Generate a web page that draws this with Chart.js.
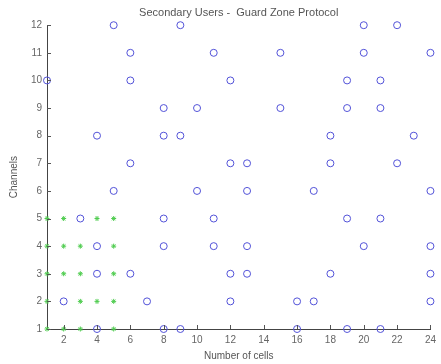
<!DOCTYPE html>
<html>
<head>
<meta charset="utf-8">
<script src="https://cdn.jsdelivr.net/npm/chart.js@4/dist/chart.umd.min.js"></script>
<style>
  body { margin: 0; background: #fff; }
  #wrap { width: 441px; height: 364px; }
</style>
</head>
<body>
<div id="wrap"><canvas id="chart"></canvas></div>
<script>
// secondary users (blue circles)
var suCells    = [5, 9, 20, 22,
                  6, 11, 15, 20, 24,
                  1, 6, 12, 19, 21,
                  8, 10, 15, 19, 21,
                  4, 8, 9, 18, 23,
                  6, 12, 13, 18, 22,
                  5, 10, 13, 17, 24,
                  3, 8, 11, 19, 21,
                  4, 8, 11, 13, 20, 24,
                  4, 6, 12, 13, 18, 24,
                  2, 7, 12, 16, 17, 24,
                  4, 8, 9, 16, 19, 21];
var suChannels = [12, 12, 12, 12,
                  11, 11, 11, 11, 11,
                  10, 10, 10, 10, 10,
                  9, 9, 9, 9, 9,
                  8, 8, 8, 8, 8,
                  7, 7, 7, 7, 7,
                  6, 6, 6, 6, 6,
                  5, 5, 5, 5, 5,
                  4, 4, 4, 4, 4, 4,
                  3, 3, 3, 3, 3, 3,
                  2, 2, 2, 2, 2, 2,
                  1, 1, 1, 1, 1, 1];

// primary users (green stars)
var puCells    = [1, 2, 4, 5,
                  1, 2, 3, 5,
                  1, 2, 3, 5,
                  1, 3, 4, 5,
                  1, 2, 3, 5];
var puChannels = [5, 5, 5, 5,
                  4, 4, 4, 4,
                  3, 3, 3, 3,
                  2, 2, 2, 2,
                  1, 1, 1, 1];

var xTicks = [2, 4, 6, 8, 10, 12, 14, 16, 18, 20, 22, 24];
var yTicks = [1, 2, 3, 4, 5, 6, 7, 8, 9, 10, 11, 12];

function toPoints(xs, ys) {
    return xs.map(function (x, i) { return { x: x, y: ys[i] }; });
}

var fontSpec = { family: 'Liberation Sans, Arial, sans-serif', size: 10 };

// inward tick marks like the original plot
var innerTicks = {
    id: 'innerTicks',
    afterDraw: function (chart) {
        var ctx = chart.ctx;
        var xs = chart.scales.x, ys = chart.scales.y;
        var area = chart.chartArea;
        ctx.save();
        ctx.strokeStyle = '#555';
        ctx.lineWidth = 1;
        ctx.beginPath();
        xTicks.forEach(function (v) {
            var px = Math.round(xs.getPixelForValue(v)) + 0.5;
            ctx.moveTo(px, area.bottom);
            ctx.lineTo(px, area.bottom - 4);
        });
        yTicks.forEach(function (v) {
            var py = Math.round(ys.getPixelForValue(v)) + 0.5;
            ctx.moveTo(area.left, py);
            ctx.lineTo(area.left + 4, py);
        });
        ctx.stroke();
        ctx.restore();
    }
};

var ctx = document.getElementById('chart').getContext('2d');
var myChart = new Chart(ctx, {
    type: 'scatter',
    data: {
        datasets: [
            {
                label: 'SU',
                data: toPoints(suCells, suChannels),
                pointStyle: 'circle',
                pointRadius: 3.5,
                borderWidth: 1,
                borderColor: '#5252d8',
                backgroundColor: 'rgba(0,0,0,0)',
                clip: false
            },
            {
                label: 'PU',
                data: toPoints(puCells, puChannels),
                pointStyle: 'star',
                pointRadius: 2.5,
                borderWidth: 1,
                borderColor: '#4fcc4f',
                backgroundColor: '#4fcc4f',
                clip: false
            }
        ]
    },
    options: {
        responsive: true,
        maintainAspectRatio: false,
        animation: false,
        layout: { padding: { left: 0, right: 7, top: 0, bottom: 0 } },
        plugins: {
            legend: { display: false },
            tooltip: { enabled: false },
            title: {
                display: true,
                fullSize: false,
                text: 'Secondary Users -  Guard Zone Protocol',
                color: '#555',
                font: { family: 'Liberation Sans, Arial, sans-serif', size: 11, weight: 'normal' },
                padding: { top: 6, bottom: 6 }
            }
        },
        scales: {
            x: {
                type: 'linear',
                min: 1,
                max: 24,
                afterBuildTicks: function (scale) {
                    scale.ticks = xTicks.map(function (v) { return { value: v }; });
                },
                afterFit: function (scale) { scale.height = 35; },
                grid: { display: false, drawTicks: false },
                border: { display: true, color: '#444', width: 1 },
                ticks: { color: '#666', font: fontSpec, padding: 5, maxRotation: 0 },
                title: {
                    display: true,
                    text: 'Number of cells',
                    color: '#555',
                    font: fontSpec,
                    padding: { top: 0, bottom: 2 }
                }
            },
            y: {
                type: 'linear',
                min: 1,
                max: 12,
                afterBuildTicks: function (scale) {
                    scale.ticks = yTicks.map(function (v) { return { value: v }; });
                },
                afterFit: function (scale) { scale.width = 47; },
                grid: { display: false, drawTicks: false },
                border: { display: true, color: '#444', width: 1 },
                ticks: { color: '#666', font: fontSpec, padding: 5 },
                title: {
                    display: true,
                    text: 'Channels',
                    color: '#555',
                    font: fontSpec,
                    padding: { top: 8, bottom: 0 }
                }
            }
        }
    },
    plugins: [innerTicks]
});
</script>
</body>
</html>
